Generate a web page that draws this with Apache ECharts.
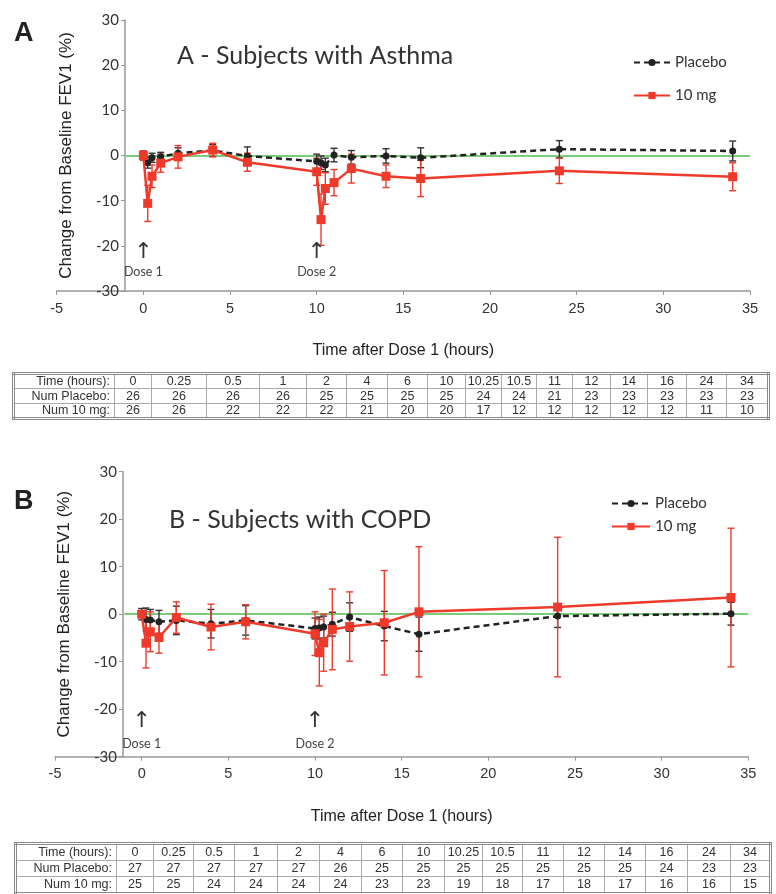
<!DOCTYPE html>
<html>
<head>
<meta charset="utf-8">
<script src="https://cdn.jsdelivr.net/npm/echarts@6/dist/echarts.min.js"></script>
<style>
  html,body{margin:0;padding:0;background:#fff;}
  #wrap{position:relative;width:776px;height:894px;overflow:hidden;}
  #chart{position:absolute;left:0;top:0;width:776px;height:894px;}
  table.nt{position:absolute;border-collapse:collapse;table-layout:fixed;font-family:"Liberation Sans",Arial,sans-serif;font-size:12.5px;color:#333;border:3px double #888;}
  table.nt td{border:1px solid #aaa;padding:0;text-align:center;white-space:nowrap;overflow:hidden;line-height:13px;}
  table.nt td.lab{text-align:right;padding-right:4px;}
</style>
</head>
<body>
<div id="wrap">
<div id="chart"></div>
</div>
<script>
// ---------------- DATA ----------------
const times = [0, 0.25, 0.5, 1, 2, 4, 6, 10, 10.25, 10.5, 11, 12, 14, 16, 24, 34];
const timeLabels = ['0','0.25','0.5','1','2','4','6','10','10.25','10.5','11','12','14','16','24','34'];

// Panel A - Asthma
const asthmaPlacebo    = [0, -1.6, -0.5, -0.3, 0.5, 1.1, -0.1, -1.3, -1.6, -2.1, 0.1, -0.4, -0.1, -0.5, 1.4, 1.0];
const asthmaPlaceboErr = [1.0, 1.2, 1.0, 1.0, 1.2, 1.3, 2.0, 1.6, 1.5, 1.5, 1.5, 1.5, 1.6, 2.2, 1.9, 2.2];
const asthma10mg       = [0, -10.6, -4.6, -1.7, -0.3, 1.2, -1.5, -3.6, -14.2, -7.3, -6.0, -2.9, -4.6, -5.1, -3.4, -4.7];
const asthma10mgErr    = [1.0, 4.0, 2.5, 2.0, 2.5, 1.5, 2.0, 3.0, 5.7, 3.5, 2.9, 3.2, 2.5, 4.0, 2.8, 3.1];
const asthmaNumPlacebo = [26, 26, 26, 26, 25, 25, 25, 25, 24, 24, 21, 23, 23, 23, 23, 23];
const asthmaNum10mg    = [26, 26, 22, 22, 22, 21, 20, 20, 17, 12, 12, 12, 12, 12, 11, 10];

// Panel B - COPD
const copdPlacebo    = [0, -1.1, -1.2, -1.6, -1.3, -2.0, -1.3, -3.0, -2.9, -2.7, -2.1, -0.6, -2.5, -4.2, -0.4, 0.1];
const copdPlaceboErr = [1.2, 2.4, 2.2, 2.4, 3.0, 3.0, 3.1, 2.2, 2.3, 2.3, 2.5, 3.0, 3.1, 3.6, 2.4, 2.4];
const copd10mg       = [0, -6.1, -3.7, -4.9, -0.7, -2.7, -1.6, -4.1, -8.1, -6.0, -3.2, -2.6, -1.8, 0.5, 1.5, 3.5];
const copd10mgErr    = [0.6, 5.2, 4.2, 3.3, 3.3, 4.8, 3.6, 4.6, 7.0, 6.0, 8.5, 7.3, 11.0, 13.7, 14.7, 14.6];
const copdNumPlacebo = [27, 27, 27, 27, 27, 26, 25, 25, 25, 25, 25, 25, 25, 24, 23, 23];
const copdNum10mg    = [25, 25, 24, 24, 24, 24, 23, 23, 19, 18, 17, 18, 17, 16, 16, 15];

const xTicks = [-5, 0, 5, 10, 15, 20, 25, 30, 35];
const yTicks = [-30, -20, -10, 0, 10, 20, 30];
const doseTimes = [0, 10];
const doseLabels = ['Dose 1', 'Dose 2'];

// ---------------- STYLE ----------------
const RED = '#ef3a2b';
const BLACK = '#222';
const GREEN = '#4dbb4d';
const calib = 'Lato, "Open Sans", sans-serif';
const arial = '"Liberation Sans", Arial, sans-serif';

function pairs(xs, ys){ return xs.map((x,i)=>[x, ys[i]]); }
function errs(xs, ys, es){ return xs.map((x,i)=>[x, ys[i]-es[i], ys[i]+es[i]]); }

function errRender(color, lw){
  return function(params, api){
    const x = api.value(0), lo = api.value(1), hi = api.value(2);
    const p1 = api.coord([x, lo]), p2 = api.coord([x, hi]);
    const w = 3.5;
    const st = {stroke: color, lineWidth: lw};
    return {type:'group', children:[
      {type:'line', shape:{x1:p1[0], y1:p1[1], x2:p2[0], y2:p2[1]}, style: st},
      {type:'line', shape:{x1:p1[0]-w, y1:p1[1], x2:p1[0]+w, y2:p1[1]}, style: st},
      {type:'line', shape:{x1:p2[0]-w, y1:p2[1], x2:p2[0]+w, y2:p2[1]}, style: st}
    ]};
  };
}

function panelSeries(idx, plc, plcErr, mg, mgErr, arrowY, textY){
  const doseMarks = [];
  doseTimes.forEach((t,i)=>{
    doseMarks.push({coord:[t, arrowY], symbol:'circle', symbolSize:1, itemStyle:{color:'rgba(0,0,0,0)'},
      label:{show:true, formatter:'↑', fontSize:22, color:'#333', fontFamily:'"DejaVu Sans", sans-serif', position:'inside'}});
    doseMarks.push({coord:[t, textY], symbol:'circle', symbolSize:1, itemStyle:{color:'rgba(0,0,0,0)'},
      label:{show:true, formatter:doseLabels[i], fontSize:12.5, color:'#444', fontFamily:calib, position:'inside'}});
  });
  return [
    {
      type:'custom', name:'Placebo err', xAxisIndex:idx, yAxisIndex:idx, silent:true, z:2,
      renderItem: errRender('#333', 1.4), encode:{x:0, y:[1,2]},
      data: errs(times, plc, plcErr)
    },
    {
      type:'custom', name:'10 mg err', xAxisIndex:idx, yAxisIndex:idx, silent:true, z:2,
      renderItem: errRender(RED, 1.4), encode:{x:0, y:[1,2]},
      data: errs(times, mg, mgErr)
    },
    {
      type:'line', name:'Placebo', xAxisIndex:idx, yAxisIndex:idx, z:3,
      data: pairs(times, plc), symbol:'circle', symbolSize:7,
      lineStyle:{color:BLACK, width:2.5, type:[6,4]}, itemStyle:{color:BLACK},
      markLine:{silent:true, symbol:'none', label:{show:false}, z:1,
        lineStyle:{color:GREEN, width:1.5, type:'solid'},
        data:[[{coord:[-1,0]},{coord:[35,0]}]]},
      markPoint:{silent:true, data:doseMarks},
      animation:false
    },
    {
      type:'line', name:'10 mg', xAxisIndex:idx, yAxisIndex:idx, z:4,
      data: pairs(times, mg), symbol:'rect', symbolSize:9,
      lineStyle:{color:RED, width:2.5}, itemStyle:{color:RED},
      animation:false
    }
  ];
}

function xAxisDef(idx){
  return {
    type:'value', gridIndex:idx, min:xTicks[0], max:xTicks[xTicks.length-1], interval:5,
    axisLine:{onZero:false, lineStyle:{color:'#999', width:1.5}},
    axisTick:{show:true, length:4, lineStyle:{color:'#999'}},
    splitLine:{show:false},
    axisLabel:{color:'#333', fontSize:14.5, fontFamily:arial, margin:10},
    name:'Time after Dose 1 (hours)', nameLocation:'middle', nameGap:52,
    nameTextStyle:{color:'#222', fontSize:16, fontFamily:arial}
  };
}
function yAxisDef(idx, off){
  return {
    type:'value', gridIndex:idx, min:yTicks[0], max:yTicks[yTicks.length-1], interval:10,
    offset: off,
    axisLine:{show:true, onZero:false, lineStyle:{color:'#999', width:1.5}},
    axisTick:{show:true, length:4, lineStyle:{color:'#999'}},
    splitLine:{show:false},
    axisLabel:{color:'#333', fontSize:15, fontFamily:calib, margin:6},
    name:'Change from Baseline FEV1 (%)', nameLocation:'middle', nameGap:50, nameRotate:90,
    nameTextStyle:{color:'#222', fontSize:17, fontFamily:arial}
  };
}

const chart = echarts.init(document.getElementById('chart'), null, {renderer:'canvas'});
const option = {
  animation:false,
  backgroundColor:'#fff',
  title:[
    {text:'A', left:9, top:15, textStyle:{fontSize:27, fontWeight:'bold', color:'#222', fontFamily:arial}},
    {text:'B', left:9, top:483, textStyle:{fontSize:27, fontWeight:'bold', color:'#222', fontFamily:arial}},
    {text:'A - Subjects with Asthma', left:172, top:38, textStyle:{fontSize:25, fontWeight:'normal', color:'#333', fontFamily:calib}},
    {text:'B - Subjects with COPD', left:164, top:502, textStyle:{fontSize:25, fontWeight:'normal', color:'#333', fontFamily:calib}}
  ],
  legend:[
    {orient:'vertical', left:628, top:50, itemGap:18, itemWidth:36, itemHeight:9,
     data:['Placebo','10 mg'], textStyle:{fontSize:15, color:'#333', fontFamily:calib}, selectedMode:false},
    {orient:'vertical', left:606, top:491, itemGap:8, itemWidth:38, itemHeight:9,
     data:['Placebo','10 mg'], textStyle:{fontSize:15, color:'#333', fontFamily:calib}, selectedMode:false}
  ],
  grid:[
    {left:56.7, top:20, width:693.3, height:271},
    {left:55, top:471.7, width:693.3, height:285}
  ],
  xAxis:[xAxisDef(0), xAxisDef(1)],
  yAxis:[yAxisDef(0, -68.3), yAxisDef(1, -68)],
  series:[].concat(
    panelSeries(0, asthmaPlacebo, asthmaPlaceboErr, asthma10mg, asthma10mgErr, -21.4, -25.8),
    panelSeries(1, copdPlacebo, copdPlaceboErr, copd10mg, copd10mgErr, -22.6, -27.3)
  )
};
chart.setOption(option);

// ---------------- TABLES ----------------
function buildTable(top, left, bounds, rowH, rows){
  const t = document.createElement('table');
  t.className = 'nt';
  t.style.top = top + 'px';
  t.style.left = left + 'px';
  t.style.width = (bounds[bounds.length-1] - bounds[0]) + 'px';
  const cg = document.createElement('colgroup');
  for(let i=0;i<bounds.length-1;i++){
    const c = document.createElement('col');
    c.style.width = (bounds[i+1]-bounds[i]) + 'px';
    cg.appendChild(c);
  }
  t.appendChild(cg);
  rows.forEach(r=>{
    const tr = document.createElement('tr');
    tr.style.height = rowH + 'px';
    r.forEach((v,j)=>{
      const td = document.createElement('td');
      td.textContent = v;
      if(j===0) td.className = 'lab';
      tr.appendChild(td);
    });
    t.appendChild(tr);
  });
  document.getElementById('wrap').appendChild(t);
}
const boundsA = [12, 113, 150, 205, 258, 305, 345, 386, 426, 464, 500, 535, 571, 609, 646, 685, 725, 767];
const boundsB = [14, 115, 152, 192, 233, 276, 318, 360, 401, 443, 481, 521, 562, 603, 644, 686, 729, 769];
buildTable(372, 12, boundsA, 15, [
  ['Time (hours):'].concat(timeLabels),
  ['Num Placebo:'].concat(asthmaNumPlacebo),
  ['Num 10 mg:'].concat(asthmaNum10mg)
]);
buildTable(842, 14, boundsB, 16.5, [
  ['Time (hours):'].concat(timeLabels),
  ['Num Placebo:'].concat(copdNumPlacebo),
  ['Num 10 mg:'].concat(copdNum10mg)
]);
</script>
</body>
</html>
